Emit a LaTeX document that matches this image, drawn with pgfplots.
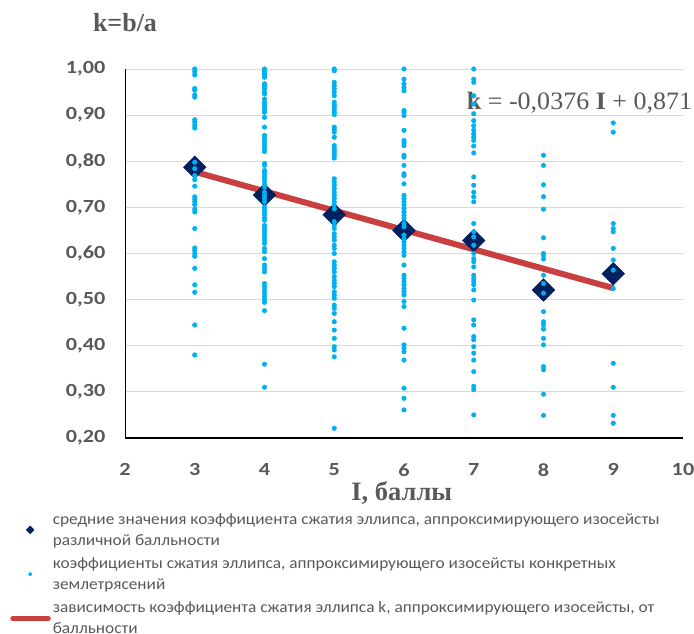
\documentclass[border=0pt]{standalone}
\usepackage{pgfplots}
\pgfplotsset{compat=1.18}
\usepackage{fontspec}
\setmainfont{Carlito}
\newfontfamily\legfont[FakeStretch=1.08]{Carlito}
\newfontfamily\tickfont[FakeStretch=1.2]{Carlito}
\newfontfamily\tnr{Liberation Serif}
\newfontfamily\tnrwide[FakeStretch=1.04]{Liberation Serif}
\definecolor{dotblue}{HTML}{00B0F0}
\definecolor{navy}{HTML}{002060}
\definecolor{trendred}{HTML}{C42A2A}
\definecolor{txtgray}{HTML}{595959}
\definecolor{gridgray}{HTML}{D9D9D9}

\pgfplotsset{
  meanleg/.style={legend image code/.code={\path[draw=none, fill=none] (0pt,-4pt) rectangle (38pt,4pt); \draw[##1, mark size=2.8pt] plot coordinates {(20pt,0pt)};}},
  dotleg/.style={legend image code/.code={\path[draw=none, fill=none] (0pt,-4pt) rectangle (38pt,4pt); \draw[##1, mark size=1.8pt] plot coordinates {(20pt,0pt)};}},
  lineleg/.style={legend image code/.code={\draw[##1, line width=5pt, line cap=round] (2.5pt,0pt) -- (38pt,0pt);}},
}

\pgfplotstableread{
x y
3 1.000
3 0.994
3 0.987
3 0.958
3 0.954
3 0.944
3 0.939
3 0.890
3 0.885
3 0.878
3 0.872
3 0.798
3 0.784
3 0.769
3 0.760
3 0.746
3 0.723
3 0.718
3 0.712
3 0.706
3 0.696
3 0.690
3 0.654
3 0.612
3 0.607
3 0.600
3 0.594
3 0.568
3 0.532
3 0.516
3 0.445
3 0.380
4 1.000
4 0.996
4 0.993
4 0.989
4 0.986
4 0.982
4 0.968
4 0.964
4 0.960
4 0.957
4 0.950
4 0.946
4 0.935
4 0.928
4 0.922
4 0.917
4 0.912
4 0.906
4 0.895
4 0.874
4 0.856
4 0.852
4 0.845
4 0.840
4 0.834
4 0.827
4 0.821
4 0.795
4 0.791
4 0.780
4 0.775
4 0.769
4 0.764
4 0.759
4 0.751
4 0.744
4 0.733
4 0.726
4 0.719
4 0.712
4 0.701
4 0.696
4 0.690
4 0.683
4 0.676
4 0.672
4 0.661
4 0.654
4 0.650
4 0.643
4 0.636
4 0.629
4 0.622
4 0.611
4 0.604
4 0.589
4 0.575
4 0.568
4 0.560
4 0.535
4 0.528
4 0.521
4 0.514
4 0.506
4 0.499
4 0.494
4 0.476
4 0.360
4 0.310
5 1.000
5 0.996
5 0.971
5 0.964
5 0.957
5 0.950
5 0.942
5 0.928
5 0.922
5 0.917
5 0.912
5 0.906
5 0.901
5 0.874
5 0.869
5 0.863
5 0.852
5 0.834
5 0.828
5 0.823
5 0.818
5 0.813
5 0.807
5 0.762
5 0.755
5 0.748
5 0.741
5 0.733
5 0.726
5 0.719
5 0.712
5 0.705
5 0.697
5 0.669
5 0.661
5 0.654
5 0.643
5 0.636
5 0.629
5 0.618
5 0.611
5 0.600
5 0.582
5 0.575
5 0.568
5 0.560
5 0.550
5 0.542
5 0.535
5 0.528
5 0.517
5 0.510
5 0.503
5 0.488
5 0.481
5 0.470
5 0.452
5 0.434
5 0.416
5 0.398
5 0.391
5 0.376
5 0.221
6 1.000
6 0.978
6 0.968
6 0.960
6 0.953
6 0.910
6 0.906
6 0.899
6 0.867
6 0.845
6 0.840
6 0.834
6 0.813
6 0.809
6 0.791
6 0.773
6 0.769
6 0.751
6 0.726
6 0.719
6 0.712
6 0.705
6 0.697
6 0.690
6 0.683
6 0.676
6 0.665
6 0.658
6 0.640
6 0.632
6 0.625
6 0.618
6 0.611
6 0.604
6 0.596
6 0.575
6 0.553
6 0.546
6 0.539
6 0.532
6 0.524
6 0.517
6 0.510
6 0.496
6 0.485
6 0.438
6 0.402
6 0.395
6 0.387
6 0.369
6 0.308
6 0.286
6 0.261
7 1.000
7 0.978
7 0.971
7 0.942
7 0.924
7 0.903
7 0.888
7 0.877
7 0.867
7 0.859
7 0.852
7 0.845
7 0.833
7 0.818
7 0.766
7 0.748
7 0.733
7 0.723
7 0.712
7 0.665
7 0.647
7 0.636
7 0.618
7 0.600
7 0.589
7 0.582
7 0.571
7 0.553
7 0.546
7 0.539
7 0.532
7 0.521
7 0.499
7 0.456
7 0.445
7 0.420
7 0.413
7 0.398
7 0.384
7 0.369
7 0.344
7 0.312
7 0.305
7 0.250
8 0.813
8 0.791
8 0.749
8 0.723
8 0.696
8 0.634
8 0.600
8 0.596
8 0.588
8 0.553
8 0.535
8 0.514
8 0.474
8 0.452
8 0.445
8 0.436
8 0.416
8 0.402
8 0.355
8 0.348
8 0.295
8 0.249
9 0.883
9 0.863
9 0.665
9 0.654
9 0.647
9 0.611
9 0.586
9 0.564
9 0.524
9 0.362
9 0.310
9 0.249
9 0.232
}\dotdata

\pgfplotstableread{
x y
3 0.787
4 0.727
5 0.684
6 0.650
7 0.628
8 0.521
9 0.556
}\meandata

\pgfplotstableread{
x y
3 0.777
9 0.525
}\trenddata

\begin{document}
\begin{tikzpicture}
\useasboundingbox (0,0) rectangle (694pt,634pt);
\begin{axis}[
  at={(125pt,196pt)}, anchor=south west,
  scale only axis, width=558pt, height=369pt,
  xmin=2, xmax=10, ymin=0.2, ymax=1.0,
  xtick={2,3,4,5,6,7,8,9,10},
  ytick={0.2,0.3,0.4,0.5,0.6,0.7,0.8,0.9,1.0},
  ymajorgrids, grid style={draw=gridgray, line width=0.9pt},
  axis x line*=bottom, axis y line*=left,
  y axis line style={black, line width=0.9pt, -},
  x axis line style={black, line width=1.6pt, -},
  major tick length=0pt,
  /pgf/number format/assume math mode=true,
  ticklabel style={font=\tickfont\bfseries\fontsize{18.5}{20}\selectfont, text=txtgray},
  yticklabel style={/pgf/number format/.cd, fixed, fixed zerofill, precision=2, use comma, /tikz/.cd, xshift=-16pt},
  xticklabel style={yshift=-22pt},
  xlabel={I, баллы},
  xlabel style={at={(axis description cs:0.496,-0.149)}, anchor=center, font=\tnr\bfseries\fontsize{26.5}{28}\selectfont, text=txtgray},
  ylabel={k=b/a},
  ylabel style={rotate=-90, at={(axis description cs:0,1.127)}, anchor=center, font=\tnr\bfseries\fontsize{26}{28}\selectfont, text=txtgray},
  clip=false,
  legend cell align=left,
  legend style={at={(axis description cs:-0.206,-0.198)}, anchor=north west,
    draw=none, fill=none, inner sep=0pt, row sep=7pt,
    font=\legfont\fontsize{16}{21}\selectfont, text=txtgray,
    cells={anchor=west, align=left}},
]
\addplot[only marks, mark=square*, color=navy, mark size=8pt, mark options={rotate=45}, meanleg]
  table[x=x, y=y] {\meandata};
\addlegendentry{средние значения коэффициента сжатия эллипса, аппроксимирующего изосейсты\\различной балльности}
\addplot[only marks, mark=*, color=dotblue, mark size=2.3pt, dotleg]
  table[x=x, y=y] {\dotdata};
\addlegendentry{коэффициенты сжатия эллипса, аппроксимирующего изосейсты конкретных\\землетрясений}
\addplot[color=trendred, line width=6pt, opacity=0.9, no marks, lineleg]
  table[x=x, y=y] {\trenddata};
\addlegendentry{зависимость коэффициента сжатия эллипса k, аппроксимирующего изосейсты, от\\балльности}
\node[anchor=west, text=txtgray, font=\tnrwide\fontsize{25}{25}\selectfont, inner sep=0pt] at (axis cs:6.9,0.926) {\textbf{k} = -0,0376 \textbf{I} + 0,871};
\end{axis}
\end{tikzpicture}
\end{document}
